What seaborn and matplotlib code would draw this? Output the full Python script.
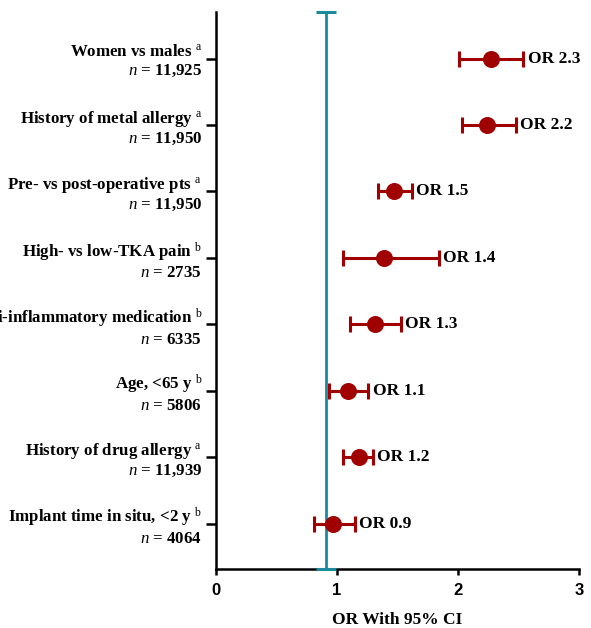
import seaborn as sns
import numpy as np
import pandas as pd
import matplotlib.pyplot as plt

sns.set_style('ticks')
plt.rcParams['font.family'] = ['Liberation Serif', 'DejaVu Serif']
plt.rcParams['mathtext.fontset'] = 'custom'
plt.rcParams['mathtext.rm'] = 'Liberation Serif'
plt.rcParams['mathtext.it'] = 'Liberation Serif:italic'
plt.rcParams['mathtext.bf'] = 'Liberation Serif:bold'
for k in ['text.color', 'axes.labelcolor', 'xtick.color', 'ytick.color', 'axes.edgecolor']:
    plt.rcParams[k] = 'black'

factors = ["Women vs males", "History of metal allergy", "Pre- vs post-operative pts",
           "High- vs low-TKA pain", "Anti-inflammatory medication", "Age, <65 y",
           "History of drug allergy", "Implant time in situ, <2 y"]
notes = ["a", "a", "a", "b", "b", "b", "a", "b"]
n_sizes = ["11,925", "11,950", "11,950", "2735", "6335", "5806", "11,939", "4064"]
or_est = [2.27, 2.24, 1.47, 1.39, 1.31, 1.09, 1.18, 0.97]
ci_low = [2.01, 2.03, 1.34, 1.05, 1.11, 0.93, 1.05, 0.81]
ci_high = [2.54, 2.48, 1.62, 1.84, 1.53, 1.26, 1.30, 1.15]
or_labels = ["OR 2.3", "OR 2.2", "OR 1.5", "OR 1.4", "OR 1.3", "OR 1.1", "OR 1.2", "OR 0.9"]
ref_x = 0.91
x_ticks = [0, 1, 2, 3]

df = pd.DataFrame({'factor': factors, 'OR': or_est, 'lo': ci_low, 'hi': ci_high})
df['row'] = np.arange(len(df))

red = '#a00000'
teal = '#1a8a9c'

fig = plt.figure(figsize=(5.91, 6.28), dpi=100)
ax = fig.add_axes([216 / 591, 59 / 628, 363 / 591, 557 / 628])

ymin, ymax = -0.7, 7.68
ax.set_ylim(ymax, ymin)
ax.set_xlim(0, 3)

# reference line with caps
mid = (ymin + ymax) / 2
ax.errorbar([ref_x], [mid], yerr=[(ymax - ymin) / 2], fmt='none', ecolor=teal,
            elinewidth=2, capsize=7.5, capthick=2.2, clip_on=False, zorder=3)

# confidence intervals
ax.errorbar(df['OR'], df['row'], xerr=[df['OR'] - df['lo'], df['hi'] - df['OR']],
            fmt='none', ecolor=red, elinewidth=2.2, capsize=5.5, capthick=2.2, zorder=4)
sns.scatterplot(data=df, x='OR', y='row', color=red, s=150, edgecolor=red,
                linewidth=0, zorder=5, ax=ax, legend=False)

for i, (hi, txt) in enumerate(zip(ci_high, or_labels)):
    ax.annotate(txt, (hi, i), xytext=(3, 0), textcoords='offset points',
                va='center', ha='left', fontsize=12.5, fontweight='bold')

ylabels = [f"{f} $^{{\\mathrm{{{a}}}}}$\n$n$ = {n}" for f, a, n in zip(factors, notes, n_sizes)]
ax.set_yticks(df['row'])
ax.set_yticklabels(ylabels, fontsize=12.2, fontweight='bold', ha='right', ma='right',
                   linespacing=1.15)
ax.set_xticks(x_ticks)
ax.set_xticklabels([str(t) for t in x_ticks], family=['Liberation Sans'],
                   fontweight='bold', fontsize=12)
ax.tick_params(axis='y', direction='out', length=7, width=1.8, pad=3)
ax.tick_params(axis='x', direction='out', length=4, width=1.8, pad=6)

for s in ['top', 'right']:
    ax.spines[s].set_visible(False)
for s in ['left', 'bottom']:
    ax.spines[s].set_linewidth(1.8)

ax.set_xlabel('OR With 95% CI', fontsize=12.5, fontweight='bold', labelpad=10)
ax.set_ylabel('')

plt.savefig('out.png', dpi=100)
